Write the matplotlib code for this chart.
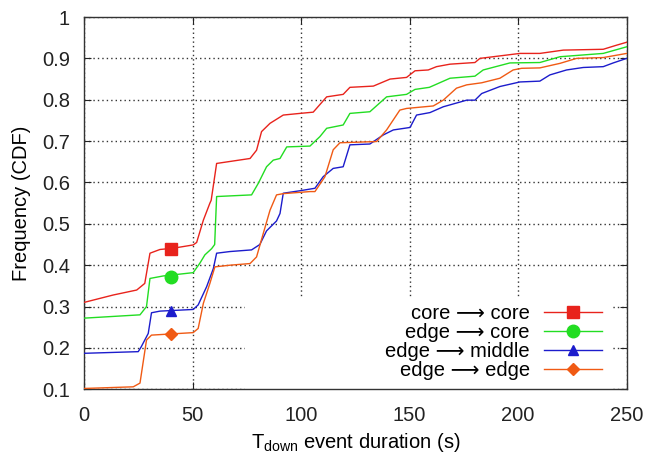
import matplotlib
matplotlib.use('Agg')
import matplotlib.pyplot as plt
from matplotlib.patches import Rectangle

plt.rcParams['font.family'] = ['Liberation Sans', 'DejaVu Sans']
plt.rcParams['mathtext.fontset'] = 'custom'
plt.rcParams['mathtext.rm'] = 'Liberation Sans'

# core -> core
red_x = [0, 13.5, 24.3, 28, 30.4, 35, 41, 50.3, 51.9, 55, 58, 58.6, 61.1, 76.5, 79.5, 81.8,
         85.7, 91.8, 99.5, 105.6, 111.8, 119.4, 122.5, 133.3, 141, 148.6, 152.5, 158.6,
         162.4, 168.6, 180.1, 182.4, 191.6, 200.8, 210, 220.8, 239.2, 245.4, 250]
red_y = [0.310, 0.328, 0.340, 0.356, 0.429, 0.438, 0.441, 0.449, 0.455, 0.509, 0.550, 0.557,
         0.646, 0.658, 0.678, 0.723, 0.743, 0.763, 0.767, 0.770, 0.807, 0.813, 0.830, 0.833,
         0.850, 0.854, 0.870, 0.872, 0.880, 0.886, 0.890, 0.900, 0.906, 0.912, 0.912, 0.920,
         0.922, 0.932, 0.939]

# edge -> core
green_x = [0, 25.8, 28.8, 30.4, 36.5, 50.3, 53.4, 55.7, 58.8, 60.2, 61.1, 77.2, 80.3, 84.1,
           87.2, 90.3, 93.4, 104.1, 108.7, 111.8, 119.4, 122.5, 131.7, 139.4, 148.6, 152.5,
           159.1, 168.6, 180.1, 183.9, 196.2, 210, 219.3, 239.2, 250]
green_y = [0.272, 0.280, 0.300, 0.368, 0.374, 0.382, 0.405, 0.425, 0.440, 0.450, 0.566, 0.570,
           0.598, 0.638, 0.654, 0.658, 0.686, 0.688, 0.711, 0.731, 0.739, 0.767, 0.771, 0.807,
           0.813, 0.825, 0.830, 0.852, 0.857, 0.872, 0.889, 0.890, 0.904, 0.912, 0.928]

# edge -> middle
blue_x = [0, 25, 26.4, 29.6, 31.1, 35, 50.3, 52.6, 56.5, 59.6, 61.1, 67.2, 77.2, 81, 84.1,
          88.7, 90.3, 91.8, 99.5, 106.4, 110.2, 114.8, 119.4, 122.5, 131.7, 137.9, 142.5,
          150.2, 153.2, 159.4, 165.5, 176.3, 180.1, 183.2, 191.6, 200.8, 210, 214.6, 222.3,
          230, 239.2, 243.8, 250]
blue_y = [0.187, 0.191, 0.203, 0.235, 0.285, 0.289, 0.293, 0.304, 0.348, 0.392, 0.429, 0.433,
          0.437, 0.450, 0.483, 0.507, 0.525, 0.574, 0.580, 0.586, 0.614, 0.634, 0.638, 0.691,
          0.693, 0.715, 0.727, 0.733, 0.763, 0.769, 0.783, 0.799, 0.799, 0.815, 0.832, 0.843,
          0.845, 0.860, 0.872, 0.878, 0.880, 0.889, 0.900]

# edge -> edge
orange_x = [0, 22.7, 25.8, 28.8, 31.1, 50.3, 52.6, 55, 58, 60.3, 67.2, 76.5, 79.5, 82.6,
            85.7, 88.7, 91.8, 104.1, 106.4, 111, 114.8, 117.9, 134.8, 139.4, 145.5, 148.6,
            160.9, 165.5, 171.6, 176.3, 183.2, 191.6, 197.7, 201.6, 210, 219.3, 226.9, 239.2, 250]
orange_y = [0.102, 0.106, 0.115, 0.219, 0.231, 0.237, 0.247, 0.308, 0.356, 0.396, 0.400, 0.404,
            0.420, 0.477, 0.533, 0.570, 0.573, 0.578, 0.578, 0.614, 0.679, 0.696, 0.699, 0.727,
            0.775, 0.779, 0.785, 0.799, 0.828, 0.836, 0.841, 0.852, 0.872, 0.876, 0.877, 0.888,
            0.900, 0.902, 0.912]

# one marker per curve, at x = 40
marker_x = 40
marker_y = [0.440, 0.372, 0.290, 0.233]

labels = ['core \u27f6 core', 'edge \u27f6 core', 'edge \u27f6 middle', 'edge \u27f6 edge']
colors = ['#e8231c', '#22dd22', '#1c1ccc', '#f05a14']
markers = ['s', 'o', '^', 'D']
msizes = [9, 9, 7.5, 6.5]

fig = plt.figure(figsize=(6.47, 4.55), dpi=100)
ax = fig.add_axes([0.1298, 0.1444, 0.8388, 0.8182])

series = [(red_x, red_y), (green_x, green_y), (blue_x, blue_y), (orange_x, orange_y)]
handles = []
for (xs, ys), my, c, m, ms, lab in zip(series, marker_y, colors, markers, msizes, labels):
    ax.plot(xs, ys, color=c, lw=1.0, zorder=3)
    ax.plot([marker_x], [my], color=c, marker=m, ms=ms, ls='none', zorder=4)
    h, = ax.plot([], [], color=c, lw=1.0, marker=m, ms=ms, label=lab)
    handles.append(h)

ax.set_xlim(0, 250)
ax.set_ylim(0.1, 1.0)
ax.set_xticks([0, 50, 100, 150, 200, 250])
ax.set_yticks([0.1, 0.2, 0.3, 0.4, 0.5, 0.6, 0.7, 0.8, 0.9, 1.0])
ax.set_yticklabels(['0.1', '0.2', '0.3', '0.4', '0.5', '0.6', '0.7', '0.8', '0.9', '1'])
ax.tick_params(direction='in', top=True, right=True, length=5, width=0.8,
               labelsize=14.5, pad=10, colors='#222222')
ax.tick_params(axis='x', pad=12)

ax.grid(True, color='#333333', ls=(0, (1, 2.2)), lw=1.0)
ax.set_axisbelow(True)
for sp in ax.spines.values():
    sp.set_linewidth(1.0)
    sp.set_color('#333333')

# key area hides the grid behind it
ax.add_patch(Rectangle((0.297, 0.0), 0.678, 0.245, transform=ax.transAxes,
                       facecolor='white', edgecolor='none', zorder=1))

ax.legend(handles=handles, loc='lower right', bbox_to_anchor=(0.981, -0.014),
          frameon=False, markerfirst=False, handlelength=2.9, handletextpad=0.7,
          labelspacing=0.0, fontsize=14.5, borderpad=0.2)

ax.set_xlabel('T$_\\mathregular{down}$ event duration (s)', fontsize=14.5, labelpad=4)
ax.set_ylabel('Frequency (CDF)', fontsize=14.5, labelpad=8)

fig.savefig('out.png', dpi=100)
